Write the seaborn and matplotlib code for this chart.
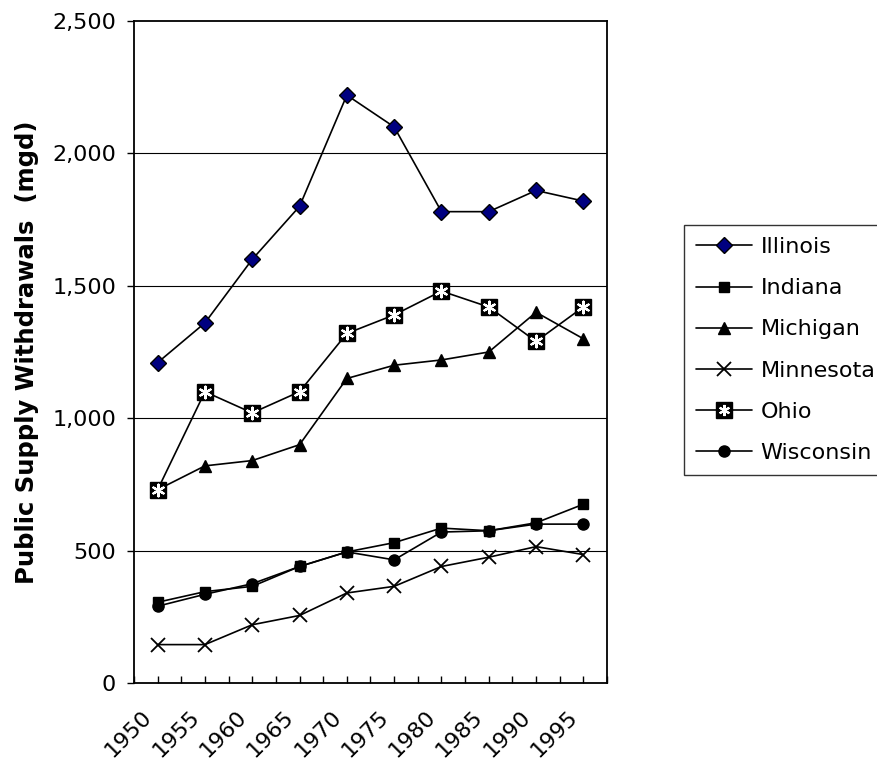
import numpy as np
import pandas as pd
import matplotlib
matplotlib.use("Agg")
import matplotlib.pyplot as plt
from matplotlib.lines import Line2D
from matplotlib.transforms import ScaledTranslation
import seaborn as sns

years = ["1950", "1955", "1960", "1965", "1970", "1975", "1980", "1985", "1990", "1995"]
illinois = [1210, 1360, 1600, 1800, 2220, 2100, 1780, 1780, 1860, 1820]
indiana = [305, 345, 365, 440, 495, 530, 585, 575, 605, 675]
michigan = [730, 820, 840, 900, 1150, 1200, 1220, 1250, 1400, 1300]
minnesota = [145, 145, 220, 255, 340, 365, 440, 475, 515, 485]
ohio = [730, 1100, 1020, 1100, 1320, 1390, 1480, 1420, 1290, 1420]
wisconsin = [290, 335, 375, 440, 495, 465, 570, 575, 600, 600]

states = ["Illinois", "Indiana", "Michigan", "Minnesota", "Ohio", "Wisconsin"]
series = [illinois, indiana, michigan, minnesota, ohio, wisconsin]

rows = []
for name, vals in zip(states, series):
    for i, (yr, v) in enumerate(zip(years, vals)):
        rows.append({"pos": i, "year": yr, "state": name, "mgd": v})
df = pd.DataFrame(rows)

sns.set_theme(style="white")
plt.rcParams["font.family"] = ["DejaVu Sans"]
plt.rcParams.update({"text.color": "black", "axes.labelcolor": "black",
                     "xtick.color": "black", "ytick.color": "black"})

FS = 16

fig = plt.figure(figsize=(8.78, 7.63), dpi=100)
ax = fig.add_axes([134 / 878, 1 - 683 / 763, 473 / 878, 662 / 763])

# horizontal gridlines behind the data
for v in [500, 1000, 1500, 2000]:
    ax.axhline(v, color="black", lw=0.8, zorder=0)

style = {
    "Illinois": dict(marker="D", ms=8, mfc="#000080", mec="black", mew=1.0),
    "Indiana": dict(marker="s", ms=7.5, mfc="black", mec="black", mew=1.0),
    "Michigan": dict(marker="^", ms=9, mfc="black", mec="black", mew=1.0),
    "Minnesota": dict(marker="x", ms=10, mfc="black", mec="black", mew=1.3),
    "Ohio": dict(marker="s", ms=12, mfc="black", mec="black", mew=1.0),
    "Wisconsin": dict(marker="o", ms=8, mfc="black", mec="black", mew=1.0),
}
LW = 1.2

for name in states:
    sub = df[df["state"] == name]
    st = style[name]
    sns.lineplot(data=sub, x="pos", y="mgd", ax=ax, color="black", lw=LW,
                 marker=st["marker"], markersize=st["ms"],
                 markerfacecolor=st["mfc"], markeredgecolor=st["mec"],
                 markeredgewidth=st["mew"], legend=False, zorder=3)

# white asterisk inside the Ohio squares
ohio_df = df[df["state"] == "Ohio"]
sns.scatterplot(data=ohio_df, x="pos", y="mgd", ax=ax, marker=(6, 2, 0),
                s=70, color="white", edgecolor="white", linewidth=1.6,
                legend=False, zorder=4)

ax.set_xlim(-0.5, 9.5)
ax.set_ylim(0, 2500)
ax.set_yticks([0, 500, 1000, 1500, 2000, 2500])
ax.set_yticklabels(["0", "500", "1,000", "1,500", "2,000", "2,500"], fontsize=FS)
ax.set_xticks(range(len(years)))
ax.set_xticklabels(years, fontsize=FS, rotation=45, ha="right", rotation_mode="anchor")
ax.set_xticks(np.arange(-0.5, 10, 1.0), minor=True)
ax.tick_params(axis="x", which="both", direction="in", length=5, width=1,
               color="black", bottom=True)
ax.tick_params(axis="x", which="major", pad=17)
ax.tick_params(axis="y", which="major", direction="out", length=5, width=1,
               color="black", left=True, pad=8)
shift = ScaledTranslation(-16 / 100, 0, fig.dpi_scale_trans)
for lbl in ax.get_xticklabels():
    lbl.set_transform(lbl.get_transform() + shift)

ax.set_xlabel("")
ax.set_ylabel("Public Supply Withdrawals  (mgd)", fontsize=17.5, fontweight="bold")
ax.yaxis.set_label_coords(-0.2, 0.5)
for sp in ax.spines.values():
    sp.set_color("black")
    sp.set_linewidth(1.3)

# legend entries
handles = []
for name in states:
    st = style[name]
    h = Line2D([], [], color="black", lw=LW, marker=st["marker"], markersize=st["ms"],
               markerfacecolor=st["mfc"], markeredgecolor=st["mec"], markeredgewidth=st["mew"])
    if name == "Ohio":
        star = Line2D([], [], color="white", lw=0, marker=(6, 2, 0), markersize=8,
                      markeredgecolor="white", markeredgewidth=1.5)
        h = (h, star)
    handles.append(h)

leg = fig.legend(handles, states, loc="upper left",
                 bbox_to_anchor=(684 / 878, 1 - 225 / 763), fontsize=FS,
                 frameon=True, fancybox=False, edgecolor="black",
                 handlelength=2.5, handletextpad=0.4, labelspacing=0.95,
                 borderpad=0.55, borderaxespad=0)
leg.get_frame().set_linewidth(1.0)

fig.savefig("out.png", dpi=100)
